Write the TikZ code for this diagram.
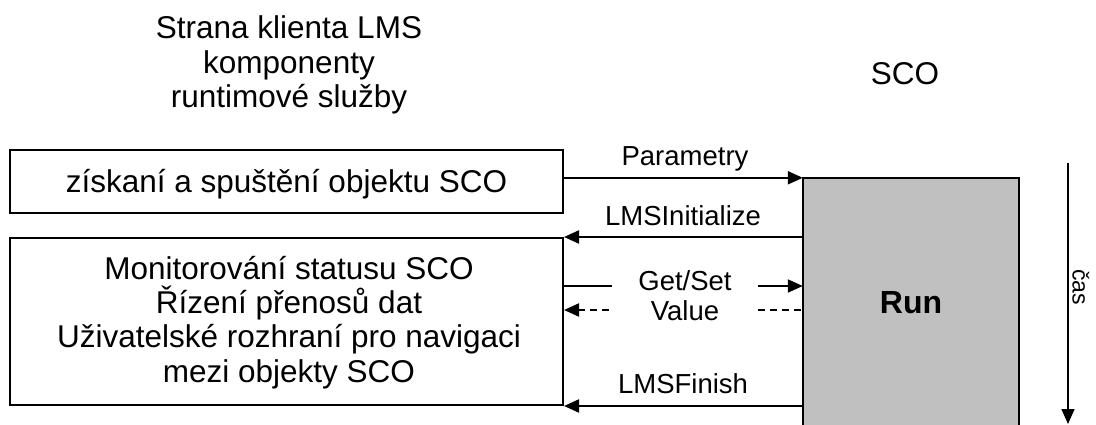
\documentclass[tikz,border=0pt]{standalone}
\usepackage{fontspec}
\setmainfont{Liberation Sans}
\usetikzlibrary{arrows.meta}
\definecolor{runfill}{RGB}{192,192,192}
\tikzset{
  big/.style={font=\fontsize{31.5}{34.3}\selectfont, align=center},
  lbl/.style={font=\fontsize{27.5}{30}\selectfont, align=center, inner sep=0pt},
  box/.style={draw, line width=2pt, inner sep=0pt},
  conn/.style={line width=2pt},
  arr/.style={conn, -{Triangle[length=15pt,width=13pt]}},
  dsh/.style={conn, dash pattern=on 7pt off 5pt},
}
\begin{document}
\begin{tikzpicture}[x=1pt, y=-1pt]
\useasboundingbox (0,0) rectangle (1096,425);

% headings
\node[big] (client) at (289,65) {Strana klienta LMS\\komponenty\\runtimové služby};
\node[big] (sco) at (905,74) {SCO};

% client-side boxes
\node[box, minimum width=553pt, minimum height=63pt] (launch) at (286.5,181.5) {};
\node[big, inner sep=0pt] (launchtext) at (286.5,184) {získaní a spuštění objektu SCO};
\node[box, minimum width=553pt, minimum height=167pt] (mon) at (286.5,321.5) {};
\node[big, inner sep=0pt] (montext) at (289,322.5)
  {Monitorování statusu SCO\\Řízení přenosů dat\\Uživatelské rozhraní pro navigaci\\mezi objekty SCO};

% running SCO
\node[fill=runfill, minimum width=216pt, minimum height=250pt, inner sep=0pt,
      font=\fontsize{32}{34}\selectfont\bfseries] (run) at (911,303) {Run};
\draw[conn] (run.south west) -- (run.north west) -- (run.north east) -- (run.south east);

% calls between LMS and SCO
\draw[arr] (launch.east |- run.north west) -- (run.north west);
\node[lbl] (param) at (685,159) {Parametry};

\draw[arr] (run.west |- mon.north) -- (mon.north east);
\node[lbl] (init) at (683,216) {LMSInitialize};

\node[lbl] (getset) at (685,296) {Get/Set\\Value};
\coordinate (gsL) at (612,286);
\coordinate (gsR) at (758,286);
\coordinate (gvL) at (609,310);
\coordinate (gvR) at (758,310);
\draw[conn] (mon.east |- gsL) -- (gsL);
\draw[arr] (gsR) -- (run.west |- gsR);
\draw[dsh, -{Triangle[length=15pt,width=13pt]}] (gvL) -- (mon.east |- gvL);
\draw[dsh] (gvR) -- (run.west |- gvR);

\draw[arr] (run.west |- mon.south) -- (mon.south east);
\node[lbl] (finish) at (683,384) {LMSFinish};

% time axis
\coordinate (t0) at (1068,163);
\coordinate (t1) at (1068,424);
\draw[arr, line width=1.5pt] (t0) -- (t1);
\node[font=\fontsize{23}{25}\selectfont, rotate=-90, inner sep=0pt] (cas) at (1081,287) {čas};
\end{tikzpicture}
\end{document}
